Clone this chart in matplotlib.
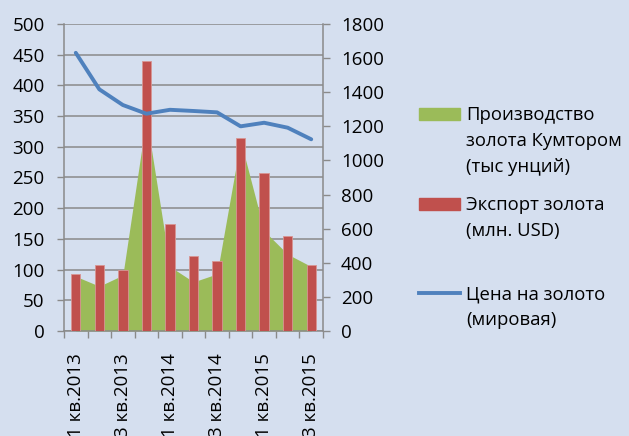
import matplotlib
matplotlib.use("Agg")
import matplotlib.pyplot as plt
import numpy as np
from matplotlib.patches import Rectangle
from matplotlib.lines import Line2D

# quarters on the x axis
quarters = ["1 кв.2013", "2 кв.2013", "3 кв.2013", "4 кв.2013",
            "1 кв.2014", "2 кв.2014", "3 кв.2014", "4 кв.2014",
            "1 кв.2015", "2 кв.2015", "3 кв.2015"]

# Kumtor gold production, thousand oz (left axis, area)
production = [89, 73, 91, 348, 105, 80, 93, 310, 163, 125, 105]
# gold export, mln USD (left axis, bars)
export = [93, 108, 99, 440, 174, 122, 114, 315, 257, 155, 108]
# world gold price (right axis, line)
price = [1631, 1417, 1325, 1274, 1297, 1290, 1282, 1200, 1221, 1192, 1124]

legend_labels = ["Производство\nзолота Кумтором\n(тыс унций)",
                 "Экспорт золота\n(млн. USD)",
                 "Цена на золото\n(мировая)"]

BG = "#d5dfef"
GREEN = "#9bbb59"
RED = "#c0504d"
BLUE = "#4f81bd"
GRID = "#8a8a8a"

plt.rcParams["font.family"] = ["Open Sans", "DejaVu Sans"]

W, H = 629, 436
fig = plt.figure(figsize=(W / 100, H / 100), dpi=100, facecolor=BG)
ax = fig.add_axes([64 / W, 105 / H, 259 / W, 307 / H])
ax.set_facecolor(BG)

x = np.arange(len(quarters))
ax.fill_between(x, production, color=GREEN, lw=0, zorder=2)
ax.bar(x, export, width=0.4, color=RED, edgecolor="#d89593", lw=0.6, zorder=3)

ax.set_xlim(-0.5, len(quarters) - 0.5)
ax.set_ylim(0, 500)
ax.set_yticks(range(0, 501, 50))
ax.set_axisbelow(True)
ax.grid(axis="y", color=GRID, lw=1.1)

# category boundary ticks, labels on every other quarter
ax.set_xticks(np.arange(-0.5, len(quarters)), labels=[])
ax.set_xticks(x[::2], labels=[quarters[i] for i in x[::2]], minor=True,
              rotation=90, va="top")
ax.tick_params(axis="x", which="major", length=5, width=1, color=GRID)
ax.tick_params(axis="x", which="minor", length=0, pad=16, labelsize=13.5)
ax.tick_params(axis="y", length=5, width=1, color=GRID, labelsize=13.5, pad=9)

for side in ["top", "right"]:
    ax.spines[side].set_visible(False)
for side in ["left", "bottom"]:
    ax.spines[side].set_color(GRID)
    ax.spines[side].set_linewidth(1.1)

ax2 = ax.twinx()
ax2.plot(x, price, color=BLUE, lw=2.8, solid_capstyle="round", zorder=5)
ax2.set_ylim(0, 1800)
ax2.set_yticks(range(0, 1801, 200))
ax2.tick_params(axis="y", length=5, width=1, color=GRID, labelsize=13.5, pad=8)
for side in ["top", "left", "bottom"]:
    ax2.spines[side].set_visible(False)
ax2.spines["right"].set_color(GRID)
ax2.spines["right"].set_linewidth(1.1)

# legend drawn by hand: key aligned with first line of each label
def fy(py):
    return (H - py) / H

key_y = [114, 204, 293]
fig.patches.append(Rectangle((419 / W, fy(120)), 41 / W, 12 / H,
                             transform=fig.transFigure, color=GREEN))
fig.patches.append(Rectangle((419 / W, fy(210)), 41 / W, 12 / H,
                             transform=fig.transFigure, color=RED))
fig.lines.append(Line2D([419 / W, 460 / W], [fy(293), fy(293)],
                        transform=fig.transFigure, color=BLUE, lw=2.8))
for label, ky in zip(legend_labels, key_y):
    fig.text(466 / W, fy(ky - 8), label, fontsize=13.3, va="top",
             ha="left", linespacing=1.56)

fig.savefig("out.png", dpi=100, facecolor=BG)
